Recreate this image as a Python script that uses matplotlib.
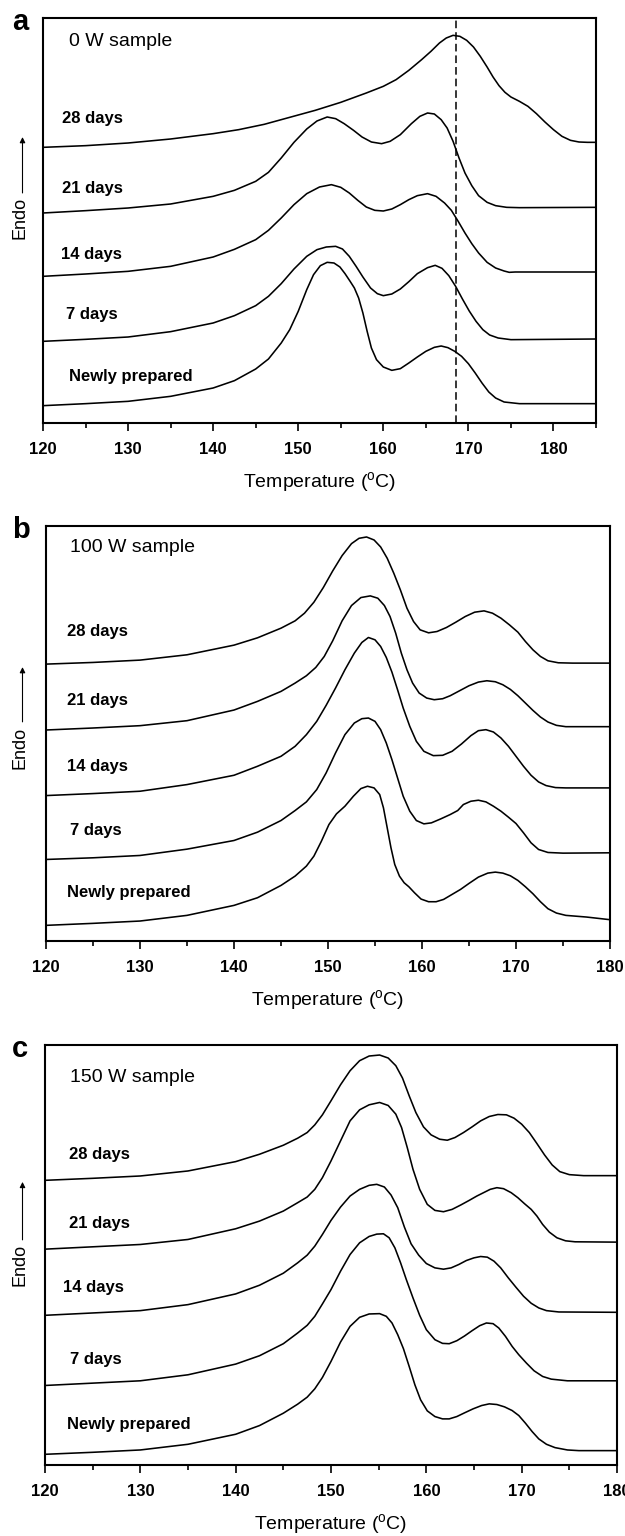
#!/usr/bin/env python3
"""DSC melting curves of PP films aged 0-28 days, for 0 W / 100 W / 150 W samples."""

import matplotlib

matplotlib.use("Agg")
import matplotlib.pyplot as plt
import matplotlib.transforms as mtransforms
from matplotlib.ticker import MultipleLocator

plt.rcParams["font.family"] = ["Liberation Sans", "DejaVu Sans"]
plt.rcParams["mathtext.fontset"] = "custom"
plt.rcParams["mathtext.rm"] = "Liberation Sans"

AGES = ["28 days", "21 days", "14 days", "7 days", "Newly prepared"]

# ---- 0 W sample: temperature (C) and heat flow (a.u., curves offset) ----
T_0W_28 = [120, 125, 130, 135, 140, 143, 146, 149, 152, 155, 158, 160, 161.5, 163, 164.5,
           165.6, 166.6, 167.4, 168.2, 169.0, 169.8, 170.6, 171.4, 172.2, 172.9, 173.6, 174.3,
           175.0, 176.0, 177.0, 178.0, 179.0, 180.0, 181.0, 182.0, 183.0, 184, 185]
Q_0W_28 = [827, 832, 840, 852, 868, 880, 896, 917, 938, 962, 990, 1010, 1030, 1058, 1090,
           1115, 1140, 1155, 1163, 1160, 1148, 1128, 1100, 1068, 1038, 1012, 992,
           978, 965, 950, 928, 903, 880, 860, 848, 843, 842, 842]
T_0W_21 = [120, 125, 130, 135, 140, 142.5, 145, 146.5, 148, 149.5, 151, 152.2, 153.4, 154.4,
           155.4, 156.5, 157.5, 158.6, 159.8, 160.8, 162, 163.3, 164.3, 165.2, 166.0, 166.8,
           167.5, 168.2, 168.9, 169.6, 170.4, 171.2, 172.2, 173.2, 174.5, 176, 185]
Q_0W_21 = [630, 637, 645, 657, 680, 698, 725, 752, 795, 842, 882, 906, 918, 913,
           898, 878, 858, 843, 838, 845, 865, 898, 920, 930, 927, 910,
           885, 845, 795, 750, 712, 682, 662, 652, 647, 646, 647]
T_0W_14 = [120, 125, 130, 135, 140, 142.5, 145, 146.5, 148, 149.5, 151, 152.5, 153.9, 155,
           156, 157, 158, 159, 160, 161, 162, 163, 164, 165.2, 166.2, 167.2, 168, 168.8,
           169.6, 170.4, 171.2, 172.2, 173.2, 174.2, 174.8, 175.5, 185]
Q_0W_14 = [440, 447, 455, 470, 498, 521, 550, 578, 615, 655, 688, 708, 715, 707,
           690, 668, 648, 638, 636, 642, 655, 670, 682, 688, 680, 660, 638, 605,
           570, 538, 510, 482, 465, 456, 452, 453, 453]
T_0W_7 = [120, 125, 130, 135, 140, 142.5, 145, 146.5, 148, 149.5, 151, 152.2, 153.3, 154.4,
          155.2, 156, 156.8, 157.6, 158.5, 159.3, 160.0, 161, 162, 163, 164, 165.2, 166.1,
          166.9, 167.7, 168.5, 169.3, 170.1, 170.9, 171.7, 172.5, 173.5, 175, 185]
Q_0W_7 = [245, 251, 258, 274, 300, 322, 352, 380, 418, 462, 500, 520, 528, 530,
          522, 500, 470, 438, 405, 388, 382, 387, 402, 424, 448, 466, 473,
          464, 442, 410, 372, 336, 305, 280, 264, 255, 250, 252]
T_0W_0 = [120, 125, 130, 135, 140, 142.5, 145, 146.5, 148, 149, 150, 151, 151.8, 152.6,
          153.4, 154.2, 154.9, 155.5, 156.1, 156.6, 157.1, 157.6, 158.1, 158.6, 159.2, 160,
          161, 162, 163, 164, 165, 166, 166.8, 167.6, 168.4, 169.2, 170, 170.8, 171.6,
          172.4, 173.2, 174.2, 176, 185]
Q_0W_0 = [52, 58, 65, 80, 105, 127, 162, 192, 240, 280, 335, 400, 445, 472,
          482, 480, 468, 448, 425, 405, 375, 330, 275, 225, 190, 168,
          158, 163, 180, 198, 215, 227, 231, 226, 215, 200, 178, 150, 120,
          93, 75, 63, 58, 58]

# ---- 100 W sample ----
T_100W_28 = [120, 125, 130, 135, 140, 142.5, 145, 146.5, 147.5, 148.5, 149.5, 150.5, 151.5,
             152.5, 153.3, 154.1, 154.9, 155.6, 156.3, 157, 157.7, 158.4, 159.1, 159.8, 160.7,
             161.6, 162.6, 163.6, 164.6, 165.6, 166.6, 167.5, 168.4, 169.3, 170.2, 171.0,
             171.8, 172.6, 173.4, 174.5, 176, 180]
Q_100W_28 = [832, 837, 844, 860, 889, 911, 940, 962, 985, 1018, 1062, 1112, 1158,
             1194, 1210, 1214, 1205, 1184, 1150, 1105, 1055, 1000, 960, 935, 926,
             930, 942, 958, 975, 988, 992, 985, 970, 950, 928, 900,
             875, 855, 842, 836, 835, 835]
T_100W_21 = [120, 125, 130, 135, 140, 142.5, 145, 146.5, 147.7, 148.7, 149.6, 150.5, 151.5,
             152.5, 153.5, 154.5, 155.3, 156, 156.6, 157.2, 157.8, 158.4, 159, 159.7, 160.5,
             161.3, 162.2, 163, 164, 165, 166, 166.9, 167.8, 168.6, 169.4, 170.2, 171, 171.8,
             172.6, 173.4, 174.3, 175.3, 180]
Q_100W_21 = [634, 640, 647, 662, 694, 720, 750, 775, 797, 822, 855, 902, 962,
             1008, 1032, 1037, 1030, 1008, 975, 925, 865, 815, 775, 745, 730,
             725, 728, 737, 752, 767, 778, 782, 779, 770, 756, 737, 715, 693,
             673, 658, 648, 644, 644]
T_100W_14 = [120, 125, 130, 135, 140, 142.5, 145, 146.5, 147.7, 148.8, 149.8, 150.8, 151.8,
             152.8, 153.6, 154.3, 155, 155.6, 156.2, 156.8, 157.4, 158, 158.7, 159.4, 160.2,
             161.2, 162.2, 163.2, 164.2, 165.2, 166, 166.8, 167.6, 168.4, 169.2, 170, 170.8,
             171.6, 172.4, 173.2, 174.2, 175.3, 180]
Q_100W_14 = [437, 443, 450, 470, 498, 525, 555, 585, 620, 660, 708, 760, 815,
             865, 897, 912, 905, 885, 852, 808, 755, 700, 645, 600, 570,
             557, 558, 570, 592, 617, 632, 635, 628, 610, 585, 555, 525,
             498, 478, 467, 461, 460, 460]
T_100W_7 = [120, 125, 130, 135, 140, 142.5, 145, 146.5, 147.7, 148.8, 149.8, 150.8, 151.8,
            152.8, 153.6, 154.3, 155, 155.6, 156.2, 156.8, 157.4, 158, 158.7, 159.4, 160.2,
            161, 162, 163, 163.8, 164.4, 165.2, 166, 166.8, 167.6, 168.4, 169.2, 170, 170.8,
            171.6, 172.4, 173.4, 175, 180]
Q_100W_7 = [245, 250, 257, 276, 302, 327, 362, 392, 418, 455, 505, 565, 620,
            655, 668, 670, 660, 635, 595, 545, 490, 435, 390, 362, 352,
            355, 367, 380, 392, 410, 420, 423, 418, 405, 390, 372, 353, 325,
            295, 275, 266, 264, 265]
T_100W_0 = [120, 125, 130, 135, 140, 142.5, 145, 146.5, 147.7, 148.5, 149.3, 150.1, 150.9,
            151.8, 152.7, 153.5, 154.2, 154.9, 155.5, 155.9, 156.3, 156.7, 157.1, 157.6, 158.1,
            158.6, 159.2, 159.9, 160.7, 161.5, 162.3, 163.2, 164.1, 165, 166, 167, 167.8,
            168.6, 169.4, 170.2, 171, 171.8, 172.6, 173.4, 174.3, 175.3, 177.5, 180]
Q_100W_0 = [47, 53, 60, 77, 107, 130, 167, 195, 225, 255, 300, 350, 382,
            405, 435, 458, 465, 460, 440, 400, 340, 280, 230, 195, 175,
            163, 145, 126, 118, 118, 125, 140, 155, 173, 192, 204, 207,
            204, 196, 182, 163, 142, 118, 97, 84, 77, 72, 64]

# ---- 150 W sample ----
T_150W_28 = [120, 125, 130, 135, 140, 142.5, 145, 146.5, 147.5, 148.3, 149.1, 150, 151, 152,
             153, 154, 155.1, 156, 156.8, 157.5, 158.2, 158.9, 159.7, 160.5, 161.4, 162.2, 163,
             163.9, 164.8, 165.7, 166.6, 167.5, 168.4, 169.2, 170, 170.8, 171.6, 172.4, 173.2,
             174, 175, 176.5, 180]
Q_150W_28 = [852, 858, 865, 880, 908, 930, 957, 978, 995, 1018, 1048, 1090, 1138, 1180,
             1210, 1224, 1227, 1218, 1195, 1158, 1105, 1055, 1012, 988, 975, 972, 980,
             995, 1012, 1030, 1043, 1049, 1048, 1038, 1020, 995, 962, 928, 898,
             878, 869, 866, 866]
T_150W_21 = [120, 125, 130, 135, 140, 142.5, 145, 146.5, 147.5, 148.3, 149.1, 150, 151, 152,
             153, 154, 155.1, 156, 156.8, 157.4, 158, 158.6, 159.3, 160.1, 160.9, 161.8, 162.7,
             163.6, 164.5, 165.3, 166, 166.7, 167.4, 168.1, 168.9, 169.6, 170.3, 171, 171.6,
             172.2, 172.9, 173.7, 174.6, 175.6, 180]
Q_150W_21 = [646, 653, 660, 675, 707, 730, 760, 785, 802, 825, 860, 910, 970, 1030,
             1063, 1078, 1085, 1076, 1050, 1010, 950, 885, 825, 780, 762, 758, 765,
             778, 792, 805, 815, 825, 830, 827, 815, 800, 782, 765, 745,
             720, 697, 680, 671, 668, 667]
T_150W_14 = [120, 125, 130, 135, 140, 142.5, 145, 146.5, 147.5, 148.3, 149.1, 150, 151, 152,
             153, 154, 154.8, 155.6, 156.3, 157, 157.7, 158.4, 159.2, 160, 160.9, 161.8, 162.6,
             163.4, 164.2, 165, 165.7, 166.4, 167.1, 167.8, 168.6, 169.4, 170.2, 171, 171.8,
             172.6, 173.9, 180]
Q_150W_14 = [448, 455, 462, 480, 512, 538, 574, 605, 628, 655, 690, 732, 772, 805,
             825, 837, 840, 832, 808, 770, 712, 662, 628, 603, 590, 586, 590,
             600, 612, 620, 624, 622, 610, 590, 560, 532, 505, 484, 470,
             462, 458, 457]
T_150W_7 = [120, 125, 130, 135, 140, 142.5, 145, 146.5, 147.5, 148.3, 149.1, 150, 151, 152,
            153, 154, 154.8, 155.5, 156.1, 156.7, 157.3, 157.9, 158.6, 159.3, 160, 160.9, 161.7,
            162.4, 163.2, 164, 164.8, 165.6, 166.3, 167, 167.6, 168.3, 169, 169.7, 170.5,
            171.3, 172.2, 173.1, 174.8, 180]
Q_150W_7 = [238, 245, 252, 270, 302, 327, 363, 395, 418, 445, 482, 525, 580, 630,
            665, 684, 691, 692, 680, 650, 605, 555, 500, 448, 405, 375, 364,
            363, 372, 386, 402, 417, 425, 423, 410, 385, 355, 330, 305,
            282, 265, 257, 252, 252]
T_150W_0 = [120, 125, 130, 135, 140, 142.5, 145, 146.5, 147.5, 148.3, 149.1, 150, 151, 152,
            153, 154, 155.1, 155.8, 156.4, 157, 157.6, 158.2, 158.8, 159.4, 160.1, 160.9,
            161.7, 162.4, 163.2, 164, 164.9, 165.8, 166.6, 167.4, 168.2, 169, 169.7, 170.4,
            171.1, 171.8, 172.6, 173.5, 174.8, 176, 180]
Q_150W_0 = [32, 38, 45, 62, 92, 118, 155, 182, 203, 228, 262, 310, 368, 415,
            442, 452, 453, 445, 425, 390, 348, 295, 240, 195, 162, 145,
            138, 138, 145, 156, 168, 178, 183, 181, 174, 163, 148, 125,
            100, 78, 62, 52, 45, 43, 43]

# peak position marked on the 0 W panel
T_MARK_0W = 168.6


def draw_panel(fig, rect, letter, title, curves, xmax, ymax, label_pos, endo, mark=None):
    ax = fig.add_axes(rect)
    for t, q in curves:
        ax.plot(t, q, color="black", lw=1.15, solid_joinstyle="round")
    if mark is not None:
        ax.axvline(mark, color="black", lw=1.1, ls=(0, (5, 2.6)))

    ax.set_xlim(120, xmax)
    ax.set_ylim(0, ymax)
    ax.set_yticks([])
    ax.set_xticks(range(120, xmax + 1, 10))
    ax.xaxis.set_minor_locator(MultipleLocator(5))
    ax.tick_params(axis="x", which="major", direction="out", length=5.5, width=1.2,
                   pad=8, labelsize=12)
    ax.tick_params(axis="x", which="minor", direction="out", length=3.5, width=1.2)
    plt.setp(ax.get_xticklabels(), fontweight="bold")
    for s in ax.spines.values():
        s.set_linewidth(1.5)
    ax.set_xlabel(r"Temperature ($^{\rm o}$C)", fontsize=14, labelpad=10)

    # sample name and ageing labels
    tx, ty = label_pos[0]
    ax.text(tx, ty, title, fontsize=14, ha="left", va="center")
    for name, (tx, ty) in zip(AGES, label_pos[1:]):
        ax.text(tx, ty, name, fontsize=12, fontweight="bold", ha="left", va="center")

    # "Endo" with upward arrow, left of the axes
    trans = mtransforms.blended_transform_factory(fig.transFigure, ax.transAxes)
    yc, y0, y1 = endo
    ax.text(20 / 625, yc, "Endo", transform=trans, rotation=90, ha="center", va="center",
            fontsize=13)
    ax.annotate("", xy=(22.5 / 625, y1), xytext=(22.5 / 625, y0), xycoords=trans,
                textcoords=trans, annotation_clip=False,
                arrowprops=dict(arrowstyle="-|>", lw=0.8, color="black", mutation_scale=8,
                                shrinkA=0, shrinkB=0))

    # panel letter
    bb = ax.get_position()
    fig.text(12 / 625, bb.y1 - 12 / 1536, letter, fontsize=21, fontweight="bold",
             ha="left", va="baseline")
    return ax


def main():
    fig = plt.figure(figsize=(6.25, 15.36), dpi=100)

    draw_panel(
        fig, [43 / 625, 1 - 423 / 1536, 553 / 625, 405 / 1536], "a", "0 W sample",
        [(T_0W_28, Q_0W_28), (T_0W_21, Q_0W_21), (T_0W_14, Q_0W_14),
         (T_0W_7, Q_0W_7), (T_0W_0, Q_0W_0)],
        185, 1215,
        [(123.1, 1143), (122.2, 915), (122.2, 702), (122.1, 505), (122.7, 325), (123.0, 140)],
        (0.506, 0.568, 0.706), mark=T_MARK_0W,
    )
    draw_panel(
        fig, [46 / 625, 1 - 941 / 1536, 564 / 625, 415 / 1536], "b", "100 W sample",
        [(T_100W_28, Q_100W_28), (T_100W_21, Q_100W_21), (T_100W_14, Q_100W_14),
         (T_100W_7, Q_100W_7), (T_100W_0, Q_100W_0)],
        180, 1247,
        [(122.5, 1182), (122.2, 929), (122.2, 724), (122.2, 524), (122.5, 332), (122.2, 147)],
        (0.465, 0.528, 0.660),
    )
    draw_panel(
        fig, [45 / 625, 1 - 1465 / 1536, 572 / 625, 420 / 1536], "c", "150 W sample",
        [(T_150W_28, Q_150W_28), (T_150W_21, Q_150W_21), (T_150W_14, Q_150W_14),
         (T_150W_7, Q_150W_7), (T_150W_0, Q_150W_0)],
        180, 1257,
        [(122.6, 1160), (122.5, 928), (122.5, 723), (121.9, 530), (122.6, 317), (122.3, 120)],
        (0.476, 0.536, 0.674),
    )

    fig.savefig("out.png", dpi=100)
    plt.close(fig)


if __name__ == "__main__":
    main()
